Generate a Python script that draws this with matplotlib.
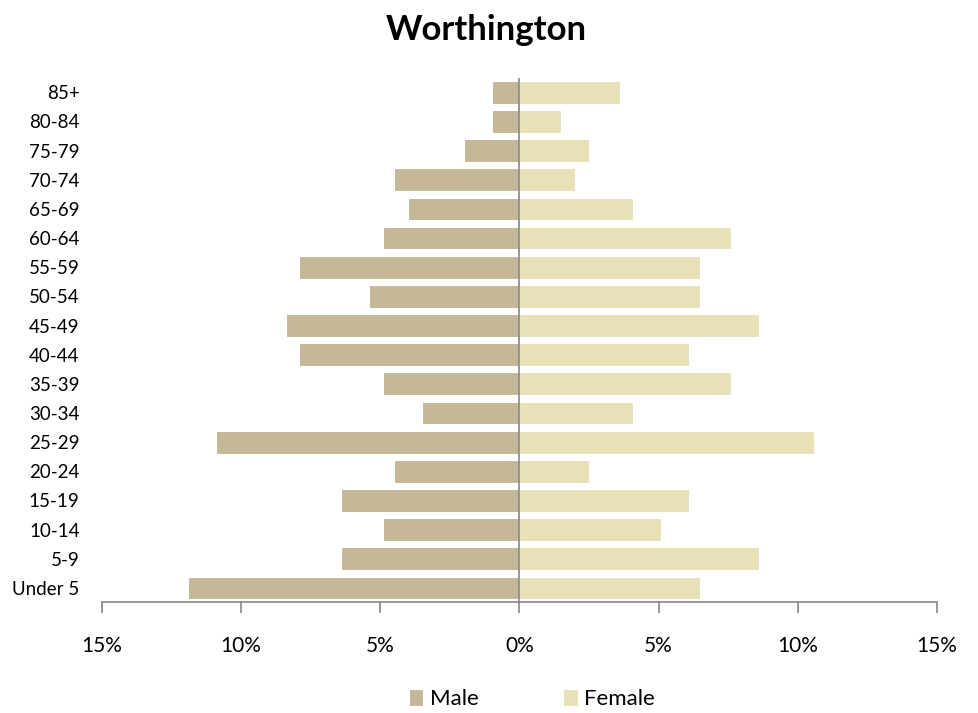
import matplotlib
matplotlib.use("Agg")
import matplotlib.pyplot as plt
from matplotlib.ticker import FuncFormatter

plt.rcParams["font.family"] = ["Lato", "DejaVu Sans"]

# age groups, bottom to top
ages = ["Under 5", "5-9", "10-14", "15-19", "20-24", "25-29", "30-34", "35-39",
        "40-44", "45-49", "50-54", "55-59", "60-64", "65-69", "70-74", "75-79",
        "80-84", "85+"]
male = [11.9, 6.4, 4.9, 6.4, 4.5, 10.9, 3.5, 4.9, 7.9, 8.4, 5.4, 7.9, 4.9,
        4.0, 4.5, 2.0, 1.0, 1.0]
female = [6.5, 8.6, 5.1, 6.1, 2.5, 10.6, 4.1, 7.6, 6.1, 8.6, 6.5, 6.5, 7.6,
          4.1, 2.0, 2.5, 1.5, 3.6]
xticks = [-15, -10, -5, 0, 5, 10, 15]

MALE_C = "#c4b896"
FEMALE_C = "#e8e1b8"

fig = plt.figure(figsize=(9.79, 7.13), dpi=100)
ax = fig.add_axes([0.104, 0.155, 0.853, 0.736])

y = range(len(ages))
ax.barh(y, [-m for m in male], height=0.78, color=MALE_C, edgecolor="white",
        linewidth=0.8, label="Male")
ax.barh(y, female, height=0.78, color=FEMALE_C, edgecolor="white",
        linewidth=0.8, label="Female")

ax.set_xlim(-15, 15)
ax.set_ylim(-0.5, len(ages) - 0.5)
ax.set_yticks(list(y))
ax.set_yticklabels(ages, fontsize=13.5)
ax.set_xticks(xticks)
ax.xaxis.set_major_formatter(FuncFormatter(lambda v, p: f"{abs(v):.0f}%"))
ax.tick_params(axis="x", labelsize=15, length=8, width=1.2, color="#868686",
               pad=16, direction="out")
ax.tick_params(axis="y", length=0, pad=16)

for s in ["top", "right", "left"]:
    ax.spines[s].set_visible(False)
ax.spines["bottom"].set_color("#868686")
ax.spines["bottom"].set_linewidth(1.2)
ax.axvline(0, color="#868686", linewidth=1.2)

# title sits a little left of the plot centre in the original
ax.set_title("Worthington", fontsize=25, fontweight="bold", pad=27, x=0.46)

ax.legend(loc="upper center", bbox_to_anchor=(0.515, -0.127), ncol=2, frameon=False,
          fontsize=16, handlelength=0.65, handleheight=0.8, columnspacing=3.8,
          handletextpad=0.3)

fig.savefig("out.png", dpi=100)
